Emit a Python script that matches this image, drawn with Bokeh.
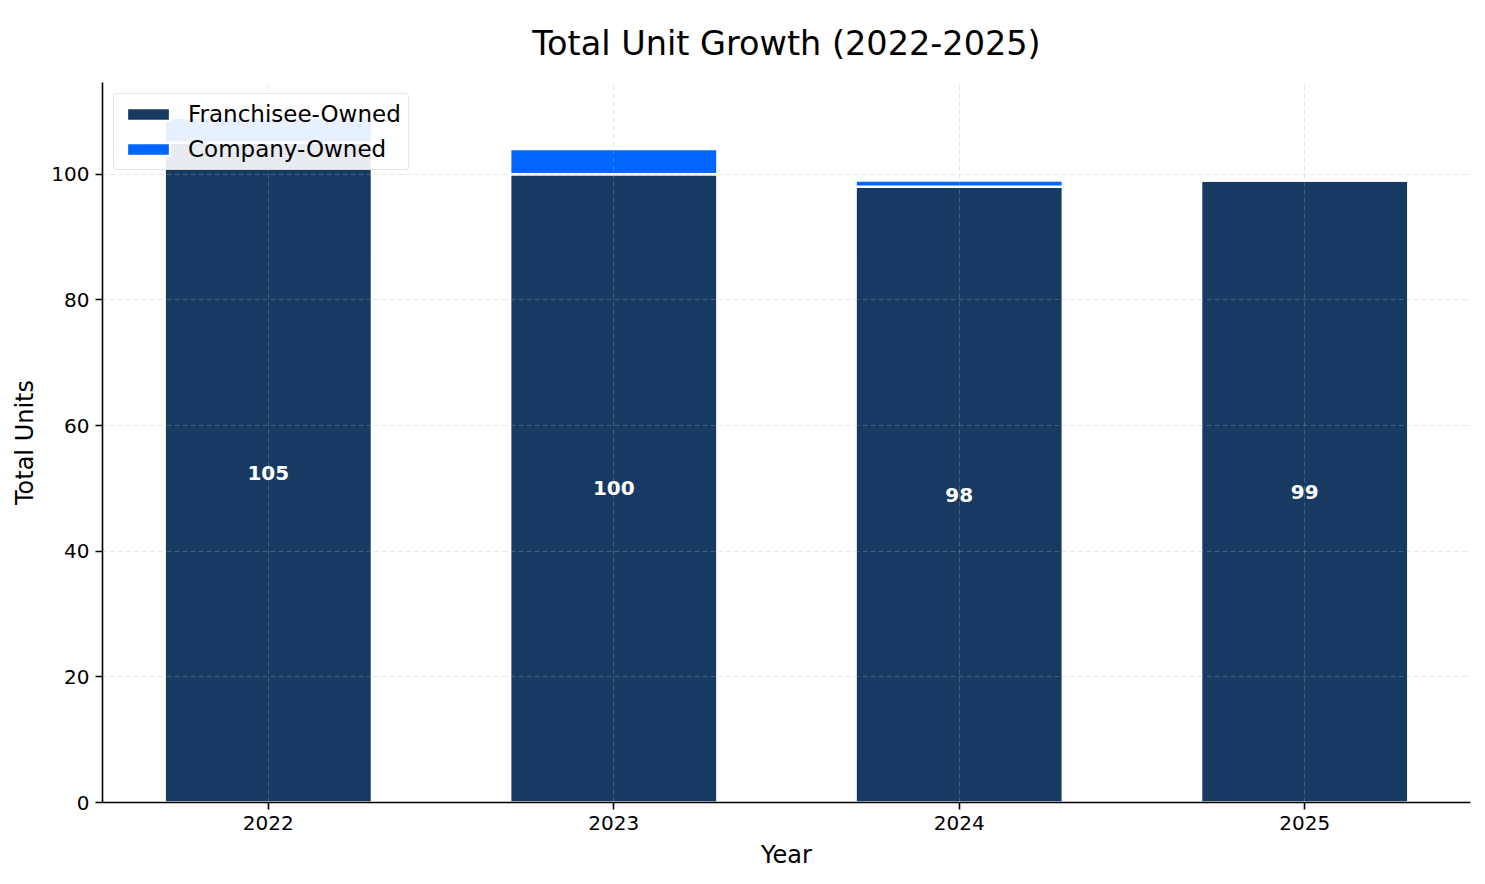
from bokeh.plotting import figure
from bokeh.models import ColumnDataSource, Range1d, FixedTicker, Legend, LegendItem, LabelSet
from bokeh.core.properties import value
from bokeh.embed import file_html
from bokeh.resources import INLINE

title_text = "Total Unit Growth (2022-2025)"
years = ["2022", "2023", "2024", "2025"]
franchisee = [105, 100, 98, 99]
company = [4, 4, 1, 0]

xs = list(range(len(years)))
tops = [f + c for f, c in zip(franchisee, company)]
src = ColumnDataSource(dict(x=xs, f=franchisee, c=company, top=tops,
                            mid=[f / 2 for f in franchisee],
                            lab=[str(f) for f in franchisee]))

p = figure(width=1483, height=880, output_backend="svg", toolbar_location=None,
           x_range=Range1d(-0.48, 3.48), y_range=Range1d(0, 114.6),
           min_border_left=102, min_border_right=13, min_border_top=82, min_border_bottom=78)

p.title.text = title_text
p.title.align = "center"
p.title.text_font = "DejaVu Sans"
p.title.text_font_size = "33.5px"
p.title.text_font_style = "normal"
p.title.text_color = "black"
p.title.text_line_height = 1.0
p.title.offset = 0
p.title.standoff = 40

r1 = p.vbar(x="x", top="f", bottom=0, width=0.6, source=src, fill_color="#163a62",
            line_color="white", line_width=2.5)
r2 = p.vbar(x="x", top="top", bottom="f", width=0.6, source=src, fill_color="#0066ff",
            line_color="white", line_width=2.5)

labels = LabelSet(x="x", y="mid", text="lab", source=src, text_color="white",
                  text_font=value("DejaVu Sans"), text_font_style="bold", text_font_size="20px",
                  text_align="center", text_baseline="middle")
p.add_layout(labels)

p.xaxis.ticker = FixedTicker(ticks=xs)
p.xaxis.major_label_overrides = {i: y for i, y in enumerate(years)}
p.yaxis.ticker = FixedTicker(ticks=[0, 20, 40, 60, 80, 100])

for ax in (p.xaxis, p.yaxis):
    ax.axis_line_color = "black"
    ax.axis_line_width = 1.6
    ax.major_tick_line_color = "black"
    ax.major_tick_line_width = 1.6
    ax.major_tick_out = 7
    ax.major_tick_in = 0
    ax.minor_tick_line_color = None
    ax.major_label_text_font = "DejaVu Sans"
    ax.major_label_text_font_size = "20px"
    ax.major_label_text_color = "black"
    ax.major_label_standoff = 6
    ax.axis_label_text_font = "DejaVu Sans"
    ax.axis_label_text_font_size = "24px"
    ax.axis_label_text_font_style = "normal"
    ax.axis_label_text_color = "black"

p.xaxis.axis_label = "Year"
p.yaxis.axis_label = "Total Units"
p.xaxis.axis_label_standoff = 8
p.yaxis.axis_label_standoff = 9

for g in (p.xgrid, p.ygrid):
    g.grid_line_color = "#b0b0b0"
    g.grid_line_alpha = 0.3
    g.grid_line_dash = "5 3"
    g.level = "overlay"

p.outline_line_color = None

legend = Legend(items=[LegendItem(label="Franchisee-Owned", renderers=[r1]),
                       LegendItem(label="Company-Owned", renderers=[r2])],
                location="top_left")
legend.label_text_font = "DejaVu Sans"
legend.label_text_font_size = "23px"
legend.label_text_color = "black"
legend.background_fill_alpha = 0.9
legend.border_line_color = "#cccccc"
legend.border_line_width = 1.5
legend.border_radius = 4
legend.glyph_width = 54
legend.glyph_height = 16
legend.spacing = 9
legend.padding = 7
legend.margin = 11
legend.label_standoff = 13
legend.level = "overlay"
p.add_layout(legend)

open("out.html", "w").write(file_html(p, INLINE))
